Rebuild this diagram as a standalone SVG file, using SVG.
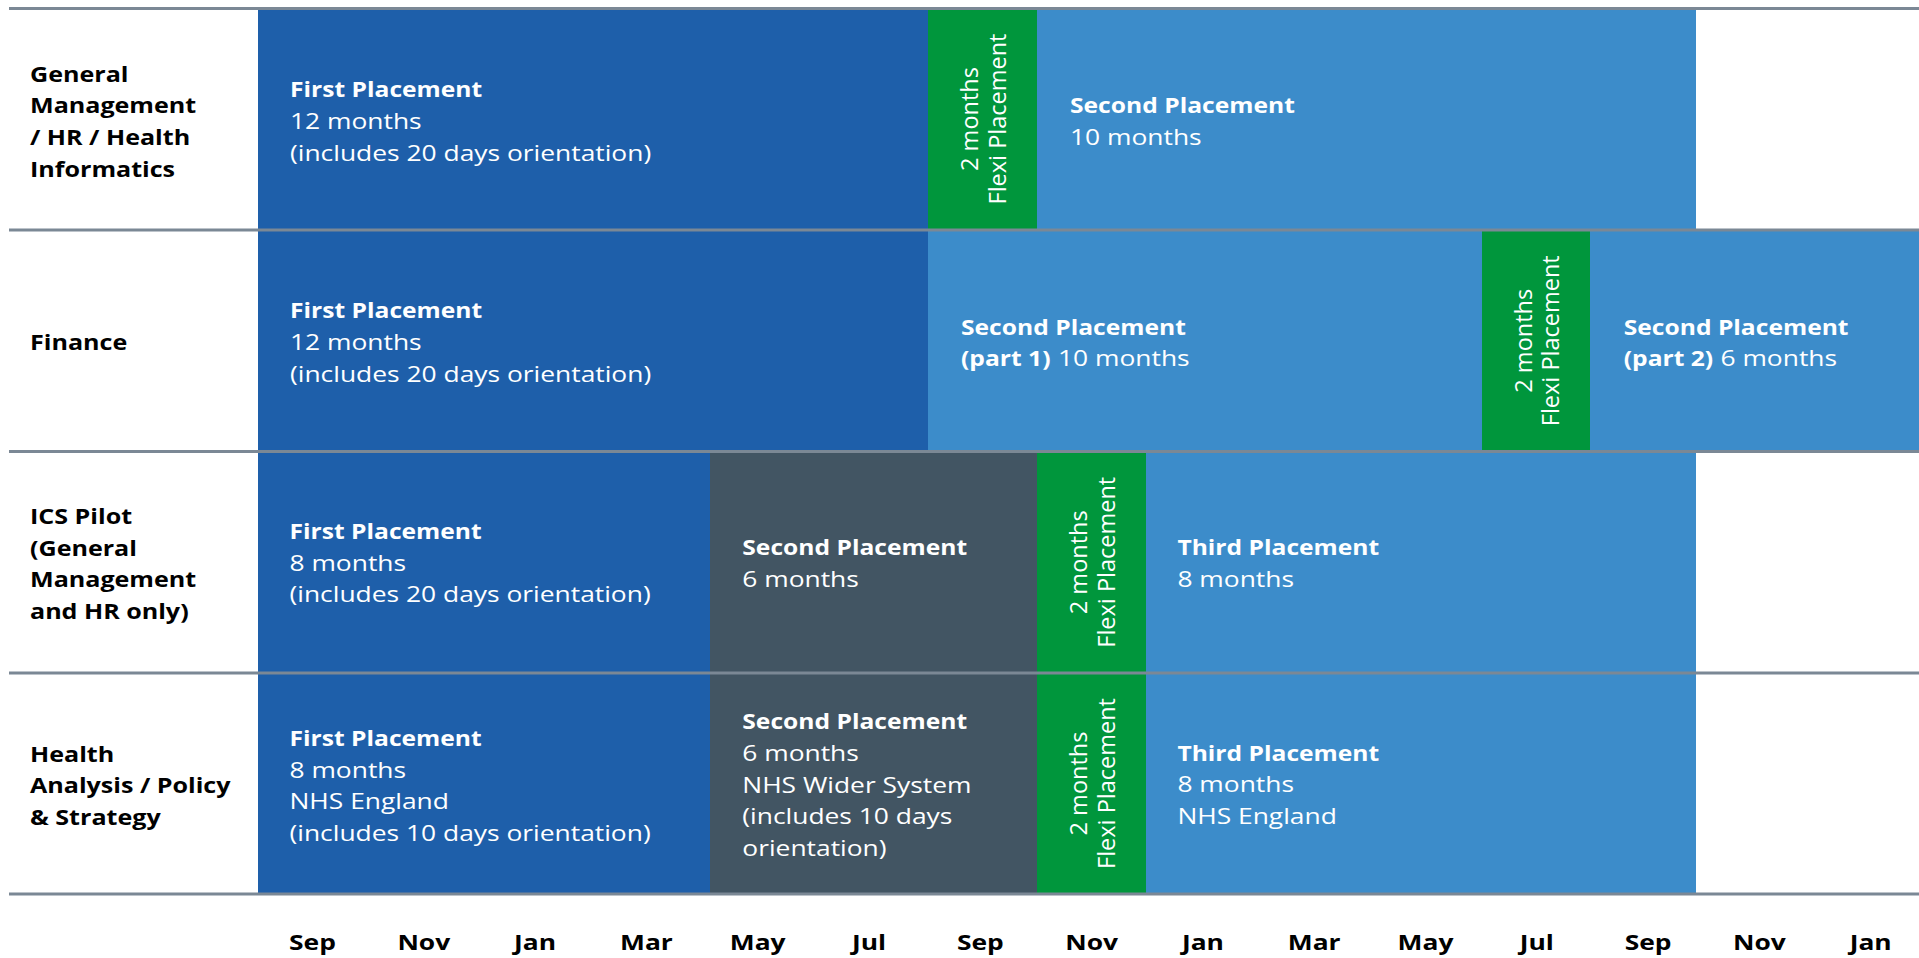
<svg xmlns="http://www.w3.org/2000/svg" width="1919" height="958" viewBox="0 0 1919 958">
  <style>
    text { font-family: "Open Sans", "Liberation Sans", sans-serif; font-size: 22px; }
    .lab { font-weight: 700; fill: #000; }
    .w { fill: #fff; }
    .b { font-weight: 700; fill: #fff; }
    .mon { font-weight: 700; fill: #000; text-anchor: middle; }
    .flexi { fill: #fff; text-anchor: middle; font-size: 23.5px; }
    .p1 { fill: #1e5faa; }
    .p2 { fill: #3c8cca; }
    .pg { fill: #425563; }
    .fx { fill: #00963c; }
    .rule { stroke: #7b8895; stroke-width: 3; }
  </style>

  <!-- Row 1: General Management / HR / Health Informatics -->
  <g id="row-gm">
    <text class="lab" transform="translate(30 81.5) scale(1.14 1)"><tspan x="0">General</tspan><tspan x="0" dy="31.7">Management</tspan><tspan x="0" dy="31.7">/ HR / Health</tspan><tspan x="0" dy="31.7">Informatics</tspan></text>
  </g>
  <g id="gm-first">
    <rect class="p1" x="258" y="8" width="670" height="222"/>
    <text class="b" transform="translate(290 97.3) scale(1.12 1)">First Placement</text>
    <text class="w" transform="translate(290 129) scale(1.2 1)"><tspan x="0">12 months</tspan><tspan x="0" dy="31.7">(includes 20 days orientation)</tspan></text>
  </g>
  <g id="gm-flexi">
    <rect class="fx" x="928" y="8" width="109" height="222"/>
    <text class="flexi" transform="translate(982.5 119) rotate(-90)"><tspan x="0" y="-4.4">2 months</tspan><tspan x="0" y="23.3">Flexi Placement</tspan></text>
  </g>
  <g id="gm-second">
    <rect class="p2" x="1037" y="8" width="659" height="222"/>
    <text class="b" transform="translate(1070 113.3) scale(1.12 1)">Second Placement</text>
    <text class="w" transform="translate(1070 145) scale(1.2 1)">10 months</text>
  </g>

  <!-- Row 2: Finance -->
  <g id="row-fin">
    <text class="lab" transform="translate(30 350) scale(1.14 1)">Finance</text>
  </g>
  <g id="fin-first">
    <rect class="p1" x="258" y="230" width="670" height="221.5"/>
    <text class="b" transform="translate(290 318.3) scale(1.12 1)">First Placement</text>
    <text class="w" transform="translate(290 350) scale(1.2 1)"><tspan x="0">12 months</tspan><tspan x="0" dy="31.7">(includes 20 days orientation)</tspan></text>
  </g>
  <g id="fin-second-1">
    <rect class="p2" x="928" y="230" width="554" height="221.5"/>
    <text class="b" transform="translate(961 334.5) scale(1.12 1)"><tspan x="0">Second Placement</tspan><tspan x="0" dy="31.7">(part 1)</tspan></text>
    <text class="w" transform="translate(1058 366.2) scale(1.2 1)">10 months</text>
  </g>
  <g id="fin-flexi">
    <rect class="fx" x="1482" y="230" width="108" height="221.5"/>
    <text class="flexi" transform="translate(1536 340.75) rotate(-90)"><tspan x="0" y="-4.4">2 months</tspan><tspan x="0" y="23.3">Flexi Placement</tspan></text>
  </g>
  <g id="fin-second-2">
    <rect class="p2" x="1590" y="230" width="329" height="221.5"/>
    <text class="b" transform="translate(1623.7 334.5) scale(1.12 1)"><tspan x="0">Second Placement</tspan><tspan x="0" dy="31.7">(part 2)</tspan></text>
    <text class="w" transform="translate(1720.5 366.2) scale(1.2 1)">6 months</text>
  </g>

  <!-- Row 3: ICS Pilot -->
  <g id="row-ics">
    <text class="lab" transform="translate(30 524) scale(1.14 1)"><tspan x="0">ICS Pilot</tspan><tspan x="0" dy="31.7">(General</tspan><tspan x="0" dy="31.7">Management</tspan><tspan x="0" dy="31.7">and HR only)</tspan></text>
  </g>
  <g id="ics-first">
    <rect class="p1" x="258" y="451.5" width="452" height="221.5"/>
    <text class="b" transform="translate(289.5 539) scale(1.12 1)">First Placement</text>
    <text class="w" transform="translate(289.5 570.7) scale(1.2 1)"><tspan x="0">8 months</tspan><tspan x="0" dy="31.7">(includes 20 days orientation)</tspan></text>
  </g>
  <g id="ics-second">
    <rect class="pg" x="710" y="451.5" width="327" height="221.5"/>
    <text class="b" transform="translate(742.3 555) scale(1.12 1)">Second Placement</text>
    <text class="w" transform="translate(742.3 586.7) scale(1.2 1)">6 months</text>
  </g>
  <g id="ics-flexi">
    <rect class="fx" x="1037" y="451.5" width="109" height="221.5"/>
    <text class="flexi" transform="translate(1091.5 562.25) rotate(-90)"><tspan x="0" y="-4.4">2 months</tspan><tspan x="0" y="23.3">Flexi Placement</tspan></text>
  </g>
  <g id="ics-third">
    <rect class="p2" x="1146" y="451.5" width="550" height="221.5"/>
    <text class="b" transform="translate(1177.4 555) scale(1.12 1)">Third Placement</text>
    <text class="w" transform="translate(1177.4 586.7) scale(1.2 1)">8 months</text>
  </g>

  <!-- Row 4: Health Analysis / Policy & Strategy -->
  <g id="row-hap">
    <text class="lab" transform="translate(30 761.7) scale(1.14 1)"><tspan x="0">Health</tspan><tspan x="0" dy="31.7">Analysis / Policy</tspan><tspan x="0" dy="31.7">&amp; Strategy</tspan></text>
  </g>
  <g id="hap-first">
    <rect class="p1" x="258" y="673" width="452" height="221"/>
    <text class="b" transform="translate(289.5 746) scale(1.12 1)">First Placement</text>
    <text class="w" transform="translate(289.5 777.7) scale(1.2 1)"><tspan x="0">8 months</tspan><tspan x="0" dy="31.7">NHS England</tspan><tspan x="0" dy="31.7">(includes 10 days orientation)</tspan></text>
  </g>
  <g id="hap-second">
    <rect class="pg" x="710" y="673" width="327" height="221"/>
    <text class="b" transform="translate(742.3 729.3) scale(1.12 1)">Second Placement</text>
    <text class="w" transform="translate(742.3 761) scale(1.2 1)"><tspan x="0">6 months</tspan><tspan x="0" dy="31.7">NHS Wider System</tspan><tspan x="0" dy="31.7">(includes 10 days</tspan><tspan x="0" dy="31.7">orientation)</tspan></text>
  </g>
  <g id="hap-flexi">
    <rect class="fx" x="1037" y="673" width="109" height="221"/>
    <text class="flexi" transform="translate(1091.5 783.5) rotate(-90)"><tspan x="0" y="-4.4">2 months</tspan><tspan x="0" y="23.3">Flexi Placement</tspan></text>
  </g>
  <g id="hap-third">
    <rect class="p2" x="1146" y="673" width="550" height="221"/>
    <text class="b" transform="translate(1177.4 760.7) scale(1.12 1)">Third Placement</text>
    <text class="w" transform="translate(1177.4 792.4) scale(1.2 1)"><tspan x="0">8 months</tspan><tspan x="0" dy="31.7">NHS England</tspan></text>
  </g>

  <!-- Horizontal rules between rows -->
  <g id="connectors">
    <line class="rule" x1="9" y1="8.5" x2="1919" y2="8.5"/>
    <line class="rule" x1="9" y1="230" x2="1919" y2="230"/>
    <line class="rule" x1="9" y1="451.5" x2="1919" y2="451.5"/>
    <line class="rule" x1="9" y1="673" x2="1919" y2="673"/>
    <line class="rule" x1="9" y1="894" x2="1919" y2="894"/>
  </g>

  <!-- Month axis -->
  <g id="axis">
    <text class="mon" transform="translate(312.5 950) scale(1.2 1)">Sep</text>
    <text class="mon" transform="translate(423.8 950) scale(1.2 1)">Nov</text>
    <text class="mon" transform="translate(535.1 950) scale(1.2 1)">Jan</text>
    <text class="mon" transform="translate(646.4 950) scale(1.2 1)">Mar</text>
    <text class="mon" transform="translate(757.7 950) scale(1.2 1)">May</text>
    <text class="mon" transform="translate(869 950) scale(1.2 1)">Jul</text>
    <text class="mon" transform="translate(980.3 950) scale(1.2 1)">Sep</text>
    <text class="mon" transform="translate(1091.6 950) scale(1.2 1)">Nov</text>
    <text class="mon" transform="translate(1202.9 950) scale(1.2 1)">Jan</text>
    <text class="mon" transform="translate(1314.2 950) scale(1.2 1)">Mar</text>
    <text class="mon" transform="translate(1425.5 950) scale(1.2 1)">May</text>
    <text class="mon" transform="translate(1536.8 950) scale(1.2 1)">Jul</text>
    <text class="mon" transform="translate(1648.1 950) scale(1.2 1)">Sep</text>
    <text class="mon" transform="translate(1759.4 950) scale(1.2 1)">Nov</text>
    <text class="mon" transform="translate(1870.7 950) scale(1.2 1)">Jan</text>
  </g>
</svg>
